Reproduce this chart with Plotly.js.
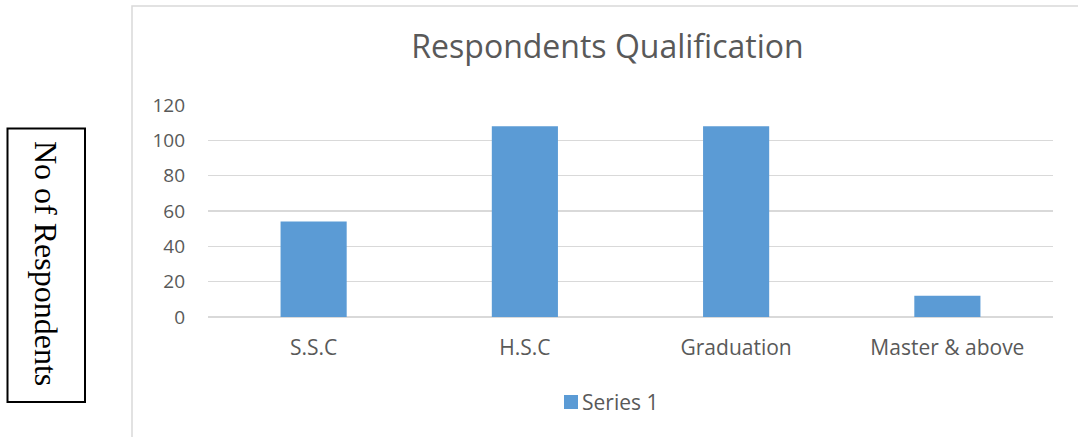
<!DOCTYPE html>
<html><head><meta charset="utf-8">
<script src="https://cdn.plot.ly/plotly-3.0.1.min.js"></script>
<style>html,body{margin:0;padding:0;background:#fff;}#chart{width:1078px;height:437px;}</style>
</head><body><div id="chart"></div>
<script>
const categories = ["S.S.C", "H.S.C", "Graduation", "Master & above"];
const series1 = [54, 108, 108, 12];
const seriesName = "Series 1";
const yTicks = [0, 20, 40, 60, 80, 100, 120];
const chartTitle = "Respondents Qualification";
const yLabel = "No of Respondents";

const W = 1078, H = 437;
const L = 208, R = 25, T = 105, B = 120;
const pw = W - L - R, ph = H - T - B;
const px = x => (x - L) / pw;
const py = y => (H - B - y) / ph;

const grey = "#595959";
const barColor = "#5b9bd5";
const FONT = "Open Sans, sans-serif";
const data = [{
  type: "bar", x: categories, y: series1, name: seriesName,
  marker: {color: barColor}, hoverinfo: "x+y", showlegend: false
}];
const layout = {
  width: W, height: H, margin: {l: L, r: R, t: T, b: B},
  paper_bgcolor: "#fff", plot_bgcolor: "#fff",
  bargap: 0.687, showlegend: false,
  font: {family: FONT, color: grey},
  title: {text: chartTitle, font: {family: FONT, size: 32, color: grey},
          x: px(607.5), xref: "paper", xanchor: "center", y: 1 - 47 / H, yanchor: "middle"},
  xaxis: {showgrid: false, showline: false, zeroline: false, ticks: "",
          tickfont: {size: 21, color: grey}, ticklabelstandoff: 16},
  yaxis: {range: [0, 120], tickvals: yTicks, showgrid: true, gridcolor: "#d9d9d9", gridwidth: 1.5,
          zeroline: true, zerolinecolor: "#d9d9d9", zerolinewidth: 1.5, showline: false,
          tickfont: {size: 19, color: grey}, ticks: "", ticklabelstandoff: 22},
  shapes: [
    {type: "rect", xref: "paper", yref: "paper", x0: px(132), x1: px(1090), y0: py(450), y1: py(6),
     line: {color: "#d9d9d9", width: 1.5}, layer: "below"},
    {type: "rect", xref: "paper", yref: "paper", x0: px(7.5), x1: px(85), y0: py(402), y1: py(128.5),
     line: {color: "#000", width: 2}},
    {type: "rect", xref: "paper", yref: "paper", x0: px(564), x1: px(578), y0: py(409), y1: py(395),
     fillcolor: barColor, line: {width: 0}}
  ],
  annotations: [
    {text: yLabel, xref: "paper", yref: "paper", x: px(46), y: py(263), textangle: 90,
     showarrow: false, xanchor: "center", yanchor: "middle",
     font: {family: "Liberation Serif, Times New Roman, serif", size: 32, color: "#000"}},
    {text: seriesName, xref: "paper", yref: "paper", x: px(580), y: py(402),
     showarrow: false, xanchor: "left", yanchor: "middle",
     font: {family: FONT, size: 21, color: grey}}
  ]
};
Plotly.newPlot("chart", data, layout, {displayModeBar: false, staticPlot: true});
</script></body></html>
